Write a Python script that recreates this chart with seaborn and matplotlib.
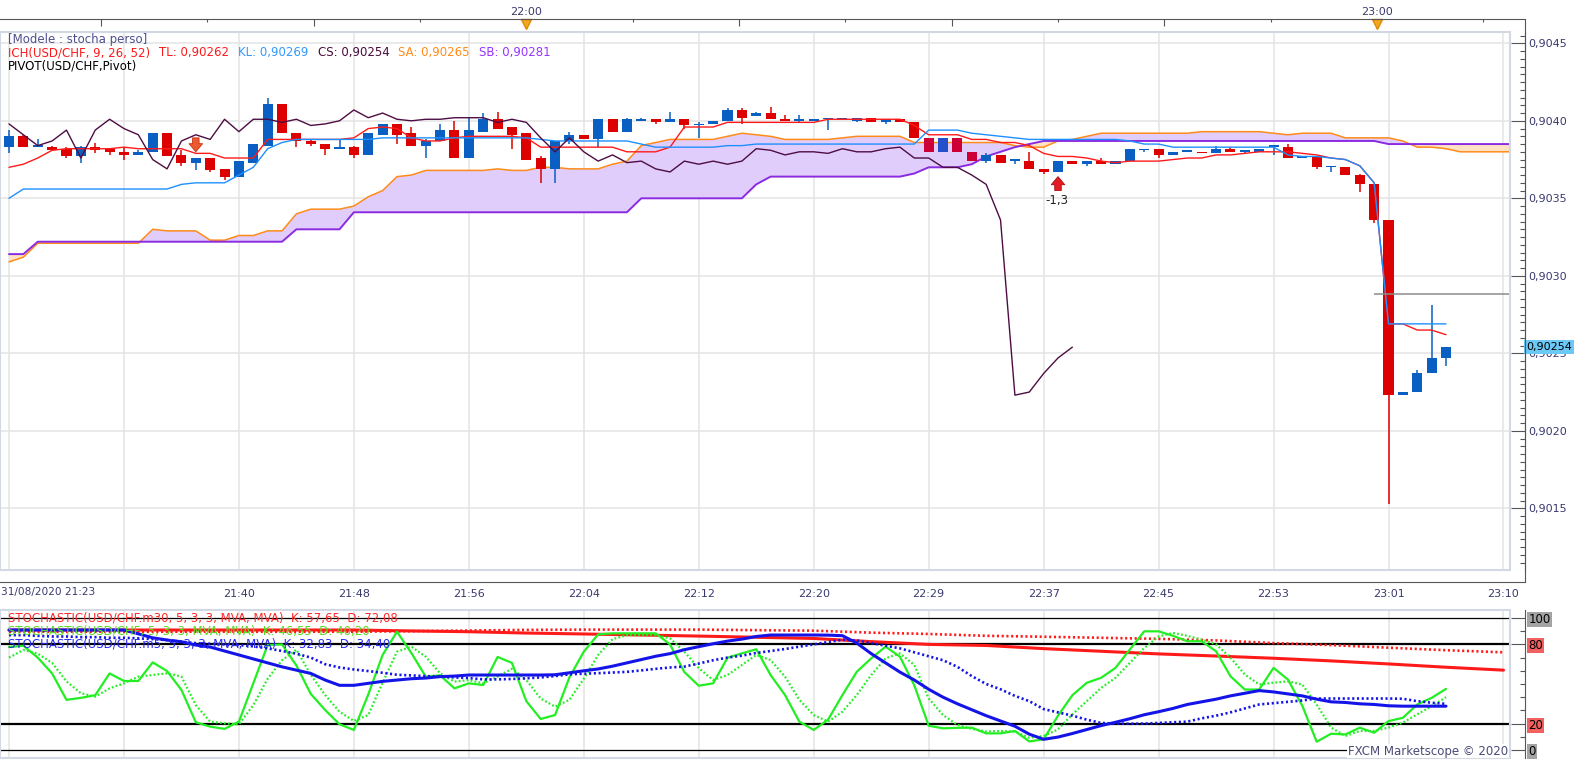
import numpy as np
import pandas as pd
import matplotlib
matplotlib.use("Agg")
import matplotlib.pyplot as plt
import seaborn as sns
from matplotlib.ticker import FixedLocator, MultipleLocator, FuncFormatter
from matplotlib.patches import Rectangle
from matplotlib.lines import Line2D

sns.set_style("white")
plt.rcParams["font.family"] = ["DejaVu Sans"]

# ---- USD/CHF 1 minute candles, bar 0 = 31/08/2020 21:23 ----
opens = [0.90383, 0.90390, 0.90383, 0.90383, 0.90382, 0.90377, 0.90383, 0.90382, 0.90380, 0.90378,
         0.90380, 0.90392, 0.90378, 0.90373, 0.90376, 0.90369, 0.90364, 0.90373, 0.90384, 0.90411,
         0.90392, 0.90387, 0.90385, 0.90382, 0.90383, 0.90378, 0.90391, 0.90398, 0.90392, 0.90384,
         0.90387, 0.90394, 0.90376, 0.90393, 0.90401, 0.90396, 0.90392, 0.90376, 0.90369, 0.90387,
         0.90391, 0.90388, 0.90401, 0.90393, 0.90400, 0.90401, 0.90399, 0.90401, 0.90397, 0.90398,
         0.90400, 0.90407, 0.90403, 0.90405, 0.90401, 0.90400, 0.90400, 0.90401, 0.90401, 0.90400,
         0.90402, 0.90399, 0.90401, 0.90399, 0.90389, 0.90380, 0.90389, 0.90380, 0.90374, 0.90378,
         0.90374, 0.90374, 0.90369, 0.90367, 0.90374, 0.90372, 0.90374, 0.90372, 0.90374, 0.90381,
         0.90382, 0.90378, 0.90380, 0.90380, 0.90379, 0.90382, 0.90380, 0.90380, 0.90383, 0.90383,
         0.90376, 0.90377, 0.90370, 0.90370, 0.90365, 0.90359, 0.90336, 0.90223, 0.90225, 0.90237,
         0.90247]
highs = [0.90394, 0.90391, 0.90388, 0.90384, 0.90383, 0.90384, 0.90386, 0.90382, 0.90383, 0.90381,
         0.90392, 0.90392, 0.90381, 0.90376, 0.90376, 0.90369, 0.90374, 0.90385, 0.90415, 0.90411,
         0.90392, 0.90388, 0.90385, 0.90388, 0.90384, 0.90392, 0.90398, 0.90398, 0.90396, 0.90388,
         0.90398, 0.90400, 0.90402, 0.90405, 0.90406, 0.90396, 0.90392, 0.90377, 0.90387, 0.90393,
         0.90391, 0.90401, 0.90401, 0.90402, 0.90402, 0.90401, 0.90406, 0.90401, 0.90399, 0.90400,
         0.90408, 0.90408, 0.90406, 0.90409, 0.90404, 0.90404, 0.90401, 0.90402, 0.90402, 0.90402,
         0.90402, 0.90401, 0.90401, 0.90399, 0.90389, 0.90389, 0.90389, 0.90380, 0.90379, 0.90378,
         0.90374, 0.90380, 0.90369, 0.90374, 0.90374, 0.90374, 0.90376, 0.90374, 0.90382, 0.90382,
         0.90382, 0.90380, 0.90380, 0.90380, 0.90384, 0.90383, 0.90381, 0.90382, 0.90383, 0.90385,
         0.90376, 0.90377, 0.90370, 0.90370, 0.90366, 0.90359, 0.90336, 0.90225, 0.90239, 0.90281,
         0.90254]
lows = [0.90379, 0.90383, 0.90383, 0.90381, 0.90376, 0.90373, 0.90379, 0.90378, 0.90375, 0.90378,
        0.90380, 0.90377, 0.90371, 0.90368, 0.90367, 0.90362, 0.90364, 0.90373, 0.90384, 0.90392,
        0.90383, 0.90384, 0.90378, 0.90382, 0.90376, 0.90378, 0.90391, 0.90385, 0.90384, 0.90376,
        0.90387, 0.90376, 0.90376, 0.90393, 0.90395, 0.90382, 0.90375, 0.90360, 0.90360, 0.90385,
        0.90388, 0.90383, 0.90393, 0.90393, 0.90400, 0.90398, 0.90399, 0.90395, 0.90389, 0.90398,
        0.90400, 0.90398, 0.90403, 0.90401, 0.90400, 0.90399, 0.90400, 0.90394, 0.90401, 0.90399,
        0.90399, 0.90398, 0.90399, 0.90389, 0.90380, 0.90380, 0.90380, 0.90374, 0.90373, 0.90373,
        0.90372, 0.90369, 0.90366, 0.90367, 0.90372, 0.90371, 0.90372, 0.90372, 0.90374, 0.90380,
        0.90376, 0.90378, 0.90380, 0.90379, 0.90379, 0.90380, 0.90379, 0.90380, 0.90378, 0.90376,
        0.90376, 0.90369, 0.90367, 0.90365, 0.90354, 0.90334, 0.90153, 0.90223, 0.90225, 0.90237,
        0.90242]
closes = [0.90390, 0.90383, 0.90383, 0.90381, 0.90377, 0.90383, 0.90381, 0.90380, 0.90378, 0.90380,
          0.90392, 0.90377, 0.90373, 0.90376, 0.90368, 0.90364, 0.90374, 0.90385, 0.90411, 0.90392,
          0.90387, 0.90385, 0.90382, 0.90383, 0.90378, 0.90392, 0.90398, 0.90391, 0.90384, 0.90387,
          0.90394, 0.90376, 0.90394, 0.90401, 0.90395, 0.90391, 0.90375, 0.90369, 0.90387, 0.90391,
          0.90388, 0.90401, 0.90393, 0.90401, 0.90401, 0.90399, 0.90401, 0.90397, 0.90398, 0.90400,
          0.90407, 0.90402, 0.90405, 0.90401, 0.90400, 0.90401, 0.90401, 0.90402, 0.90402, 0.90402,
          0.90399, 0.90401, 0.90399, 0.90389, 0.90380, 0.90389, 0.90380, 0.90374, 0.90378, 0.90373,
          0.90374, 0.90369, 0.90367, 0.90374, 0.90372, 0.90374, 0.90372, 0.90374, 0.90382, 0.90381,
          0.90378, 0.90380, 0.90380, 0.90379, 0.90382, 0.90380, 0.90380, 0.90382, 0.90383, 0.90376,
          0.90376, 0.90370, 0.90370, 0.90365, 0.90359, 0.90336, 0.90223, 0.90225, 0.90237, 0.90247,
          0.90254]
tinted_bars = [64, 65, 66, 67]   # bars drawn in the darker "inside cloud" colours

# ---- Ichimoku ----
tenkan = [0.90370, 0.90372, 0.90376, 0.90381, 0.90382, 0.90382, 0.90382, 0.90382, 0.90383, 0.90382,
          0.90382, 0.90382, 0.90382, 0.90379, 0.90379, 0.90376, 0.90376, 0.90376, 0.90388, 0.90388,
          0.90388, 0.90388, 0.90388, 0.90388, 0.90389, 0.90395, 0.90396, 0.90395, 0.90389, 0.90387,
          0.90387, 0.90389, 0.90390, 0.90390, 0.90390, 0.90390, 0.90389, 0.90383, 0.90383, 0.90383,
          0.90383, 0.90383, 0.90383, 0.90380, 0.90380, 0.90380, 0.90383, 0.90396, 0.90396, 0.90396,
          0.90399, 0.90399, 0.90399, 0.90399, 0.90399, 0.90399, 0.90399, 0.90401, 0.90401, 0.90401,
          0.90401, 0.90401, 0.90401, 0.90397, 0.90391, 0.90391, 0.90391, 0.90388, 0.90388, 0.90386,
          0.90386, 0.90384, 0.90379, 0.90377, 0.90377, 0.90376, 0.90374, 0.90373, 0.90374, 0.90374,
          0.90374, 0.90375, 0.90376, 0.90376, 0.90378, 0.90378, 0.90379, 0.90380, 0.90380, 0.90380,
          0.90379, 0.90378, 0.90376, 0.90375, 0.90371, 0.90360, 0.90269, 0.90269, 0.90265, 0.90265,
          0.90262]
kijun = [0.90350, 0.90356, 0.90356, 0.90356, 0.90356, 0.90356, 0.90356, 0.90356, 0.90356, 0.90356,
         0.90356, 0.90356, 0.90359, 0.90360, 0.90360, 0.90360, 0.90365, 0.90370, 0.90382, 0.90386,
         0.90388, 0.90388, 0.90388, 0.90388, 0.90388, 0.90388, 0.90389, 0.90389, 0.90389, 0.90389,
         0.90389, 0.90389, 0.90389, 0.90389, 0.90389, 0.90389, 0.90389, 0.90388, 0.90387, 0.90387,
         0.90387, 0.90387, 0.90387, 0.90387, 0.90385, 0.90383, 0.90383, 0.90383, 0.90383, 0.90383,
         0.90384, 0.90384, 0.90385, 0.90385, 0.90385, 0.90385, 0.90385, 0.90385, 0.90385, 0.90385,
         0.90385, 0.90385, 0.90385, 0.90385, 0.90394, 0.90394, 0.90394, 0.90392, 0.90391, 0.90390,
         0.90389, 0.90388, 0.90388, 0.90388, 0.90388, 0.90388, 0.90388, 0.90388, 0.90387, 0.90385,
         0.90385, 0.90383, 0.90383, 0.90383, 0.90383, 0.90383, 0.90383, 0.90383, 0.90383, 0.90378,
         0.90377, 0.90377, 0.90376, 0.90375, 0.90371, 0.90360, 0.90269, 0.90269, 0.90269, 0.90269,
         0.90269]
senkou_a = [0.90309, 0.90312, 0.90321, 0.90321, 0.90321, 0.90321, 0.90321, 0.90321, 0.90321, 0.90321,
            0.90330, 0.90329, 0.90329, 0.90329, 0.90323, 0.90323, 0.90326, 0.90326, 0.90329, 0.90329,
            0.90340, 0.90343, 0.90343, 0.90343, 0.90345, 0.90351, 0.90355, 0.90364, 0.90365, 0.90368,
            0.90368, 0.90368, 0.90368, 0.90368, 0.90369, 0.90368, 0.90368, 0.90370, 0.90370, 0.90369,
            0.90369, 0.90369, 0.90372, 0.90374, 0.90384, 0.90386, 0.90388, 0.90388, 0.90388, 0.90388,
            0.90390, 0.90392, 0.90391, 0.90390, 0.90388, 0.90388, 0.90388, 0.90388, 0.90389, 0.90390,
            0.90390, 0.90390, 0.90390, 0.90386, 0.90386, 0.90386, 0.90386, 0.90386, 0.90386, 0.90386,
            0.90384, 0.90383, 0.90383, 0.90387, 0.90388, 0.90390, 0.90392, 0.90392, 0.90392, 0.90392,
            0.90392, 0.90392, 0.90392, 0.90393, 0.90393, 0.90393, 0.90393, 0.90393, 0.90392, 0.90391,
            0.90392, 0.90392, 0.90392, 0.90389, 0.90389, 0.90389, 0.90389, 0.90387, 0.90383, 0.90383,
            0.90382, 0.90380, 0.90380, 0.90380, 0.90380, 0.90380]
senkou_b = [0.90314, 0.90314, 0.90322, 0.90322, 0.90322, 0.90322, 0.90322, 0.90322, 0.90322, 0.90322,
            0.90322, 0.90322, 0.90322, 0.90322, 0.90322, 0.90322, 0.90322, 0.90322, 0.90322, 0.90322,
            0.90330, 0.90330, 0.90330, 0.90330, 0.90341, 0.90341, 0.90341, 0.90341, 0.90341, 0.90341,
            0.90341, 0.90341, 0.90341, 0.90341, 0.90341, 0.90341, 0.90341, 0.90341, 0.90341, 0.90341,
            0.90341, 0.90341, 0.90341, 0.90341, 0.90350, 0.90350, 0.90350, 0.90350, 0.90350, 0.90350,
            0.90350, 0.90350, 0.90359, 0.90364, 0.90364, 0.90364, 0.90364, 0.90364, 0.90364, 0.90364,
            0.90364, 0.90364, 0.90364, 0.90366, 0.90370, 0.90370, 0.90370, 0.90372, 0.90377, 0.90380,
            0.90383, 0.90385, 0.90387, 0.90387, 0.90387, 0.90387, 0.90387, 0.90387, 0.90387, 0.90387,
            0.90387, 0.90387, 0.90387, 0.90387, 0.90387, 0.90387, 0.90387, 0.90387, 0.90387, 0.90387,
            0.90387, 0.90387, 0.90387, 0.90387, 0.90387, 0.90387, 0.90385, 0.90385, 0.90385, 0.90385,
            0.90385, 0.90385, 0.90385, 0.90385, 0.90385, 0.90385]
chikou_shift = 26
pivot_level = 0.90288
pivot_start_bar = 95
signal_down_bar, signal_down_top, signal_down_tip = 13, 0.90389, 0.90380
signal_up_bar, signal_up_base, signal_up_tip = 73, 0.90355, 0.90364
signal_up_text = "-1,3"

# ---- Stochastics (USD/CHF m1, m5, m30) ----
stoch_k = [78, 79, 70, 58, 38, 39.5, 41.5, 58, 52.3, 52.3, 66.4, 59.8, 45.5, 21, 17.7, 16, 21.5, 50.5, 79.5, 80,
           64, 42.5, 30.3, 19.5, 15.2, 42, 72, 89.6, 73.5, 55.6, 56.6, 46.7, 50.5, 49.2, 70.5, 66, 37, 23.5, 26.5, 55,
           74.5, 87.6, 88.4, 88.4, 88.4, 88.4, 80, 59, 48.7, 50.5, 69.9, 73.2, 76.3, 56.8, 41.7, 21.5, 15.2, 23, 41.7, 59.3,
           69.4, 78.3, 70.7, 49, 18.4, 16.4, 16.8, 16.9, 12.6, 12.6, 14.4, 6.5, 8.1, 26, 41.5, 50.9, 54.7, 62.2, 76.1, 89.9,
           89.9, 86.5, 82.4, 82.4, 74.8, 55.9, 45.8, 45.8, 62.2, 53.4, 33.5, 6.3, 12.3, 11.8, 16.9, 13.1, 21.9, 24.4, 34.5, 39.5,
           46.3]
stoch_d = [70, 75.8, 73, 66, 52, 43, 40.4, 46.7, 50.5, 55.6, 56.8, 58.1, 55.6, 34, 21.5, 20.2, 19.4, 34, 54, 68,
           76, 57, 41.7, 29, 22, 26.5, 51, 74.5, 78.3, 70.7, 58.1, 51.8, 53, 50.5, 55.6, 61.5, 53, 39, 32.8, 38,
           54, 72, 84, 87, 87, 87, 84.6, 74.5, 62, 53, 56.8, 64.4, 72, 68.2, 55.6, 38, 26.5, 21.5, 29, 41.7,
           56.8, 69.4, 73.2, 64.4, 39, 26.5, 19, 16, 14, 14.4, 14, 9.3, 10.6, 15.6, 27, 37, 47, 54.7, 66, 77.3,
           86, 88.7, 86.5, 83.6, 80, 70, 57.2, 49.6, 51, 52, 49.6, 34.5, 17, 10.6, 14.4, 14.4, 17, 20.7, 27, 33.2,
           40]
stoch_m5_k = [90.9, 90.9, 90.9, 90.9, 90.9, 90.9, 90.9, 90.9, 90.9, 88, 85, 83.3, 82, 79.5, 78, 75, 72, 69, 66, 63,
              60.5, 58, 53, 49, 49, 50.5, 52, 53, 54, 54.5, 55.6, 56, 56.8, 56.8, 56.8, 56.8, 56.8, 56.8, 57, 58.5,
              60, 61.4, 63.5, 66, 68.5, 71, 73, 76, 78.3, 80.5, 82.5, 84, 86, 87.1, 87.1, 87.1, 87.1, 87, 86.6, 81,
              73, 66, 59, 53, 46, 40, 35, 30.5, 26, 22, 18, 12, 8.1, 9.8, 12.5, 15.5, 18.5, 21, 23.7, 26.7,
              29, 31.5, 34.5, 36.5, 38.5, 41, 43, 45, 44, 42.5, 41, 38.5, 36.5, 36, 35, 34.5, 33.5, 33.2, 33.2, 33.2,
              33.2]
stoch_m5_d = [87, 87, 86.5, 86, 86, 85.5, 85.5, 85, 85, 84.6, 84, 83.3, 82, 81, 80.5, 80, 79.5, 78.5, 77, 75,
              73, 70, 65, 62.5, 61, 59.8, 58.5, 57, 56.5, 56, 55.5, 55, 54.5, 53.5, 53.5, 53.8, 54.3, 55, 56, 57.3,
              57.8, 58.2, 58.7, 59.2, 60.3, 61.5, 62.5, 63.2, 65.5, 68, 70, 71.5, 73.5, 75, 76.5, 78.3, 80, 81.8, 83.5, 83,
              81, 79, 77, 74, 71, 68, 63, 56, 50, 46, 41, 37, 31, 28.5, 26, 23, 20.5, 20, 19.9, 20,
              20.5, 21, 21.5, 24, 26, 28.5, 31.5, 34.5, 35.5, 36.5, 37.5, 39, 39, 39, 39, 39, 39, 38.8, 37, 35.8,
              35]
m30_bars = [0, 4, 8, 12, 16, 20, 24, 28, 32, 36, 40, 44, 48, 52, 56, 60, 64, 68, 72, 76,
            80, 84, 88, 92, 96, 100, 104]
stoch_m30_k = [90.9, 90.9, 90.9, 90.9, 90.9, 90.9, 90.9, 90.2, 89.6, 88.6, 87.9, 87.1, 86.3, 85.4, 84.5, 82.1,
               80.0, 79.2, 76.8, 74.8, 72.8, 71.2, 69.5, 67.5, 65.2, 62.7, 60.5]
stoch_m30_d = [89.6, 89.6, 89.6, 89.6, 89.6, 89.6, 89.6, 90.0, 90.5, 91.0, 91.2, 91.2, 91.2, 90.8, 90.4, 88.9,
               87.9, 86.5, 85.8, 85.0, 84.2, 83.0, 81.0, 79.5, 77.5, 75.6, 74.0]

# ---- axis labels ----
grid_bars = [0, 8, 16, 24, 32, 40, 48, 56, 64, 72, 80, 88, 96, 104]
time_labels = ["", "", "21:40", "21:48", "21:56", "22:04", "22:12", "22:20", "22:29",
               "22:37", "22:45", "22:53", "23:01", "23:10"]
first_label = "31/08/2020 21:23"
hour_ticks = [6.4, 21.2, 36.0, 50.8, 65.6, 80.4, 95.2]
hour_labels = ["", "", "22:00", "", "", "", "23:00"]
half_ticks = [13.8, 28.6, 43.4, 58.2, 73.0, 87.8, 102.6]
price_ticks = [0.9015, 0.9020, 0.9025, 0.9030, 0.9035, 0.9040, 0.9045]

# ---------------------------------------------------------------
W, H = 1583.0, 760.0
PX, X0 = 14.37, 9.0          # pixels per bar, pixel of bar 0
fig = plt.figure(figsize=(W / 100, H / 100), dpi=100)


def box(x0, y0, x1, y1):
    return [x0 / W, 1 - y1 / H, (x1 - x0) / W, (y1 - y0) / H]


ax = fig.add_axes(box(0, 32, 1510, 570))
axs = fig.add_axes(box(0, 610, 1510, 758))
axt = fig.add_axes(box(0, 19, 1525, 32))
axb = fig.add_axes(box(0, 570, 1525, 582))
xlim_main = (-X0 / PX, (1510 - X0) / PX)
xlim_wide = (-X0 / PX, (1525 - X0) / PX)

AXC = "#555555"
LBC = "#39396e"
GRID = "#e4e4e4"
FS = 8.5

# ---- price panel ----
bars = np.arange(len(opens))
o, h, l, c = map(np.array, (opens, highs, lows, closes))
up = c >= o
colors = np.where(up, "#0a5fc2", "#dd0000").astype(object)
for i in tinted_bars:
    colors[i] = "#2450cc" if up[i] else "#cc0036"
body_lo = np.minimum(o, c)
body_h = np.maximum(np.abs(c - o), 0.000011)

ax.vlines(bars, l, h, colors=list(colors), lw=1.1, zorder=3)
ax.bar(bars, body_h, bottom=body_lo, width=0.7, color=list(colors), lw=0, zorder=3.5)

cloud_x = np.arange(len(senkou_a))
sa, sb = np.array(senkou_a), np.array(senkou_b)
ax.fill_between(cloud_x, sa, sb, where=sa >= sb, interpolate=True, color="#e1cdfb", lw=0, zorder=1)
ax.fill_between(cloud_x, sa, sb, where=sa < sb, interpolate=True, color="#ffe2c4", lw=0, zorder=1)

ich = pd.DataFrame({"bar": bars, "TL": tenkan, "KL": kijun})
sns.lineplot(x=cloud_x, y=sa, ax=ax, color="#ff8c1a", lw=1.1, zorder=2)
sns.lineplot(x=cloud_x, y=sb, ax=ax, color="#8a2be2", lw=1.4, zorder=2)
sns.lineplot(data=ich, x="bar", y="TL", ax=ax, color="#ff1a1a", lw=1.0, zorder=4)
sns.lineplot(data=ich, x="bar", y="KL", ax=ax, color="#1e8fff", lw=1.0, zorder=4)
sns.lineplot(x=bars[:-chikou_shift], y=c[chikou_shift:], ax=ax, color="#4d0d43", lw=1.0, zorder=4)
ax.hlines(pivot_level, pivot_start_bar, xlim_wide[1], color="#8c8c8c", lw=1.1, zorder=4)

arrow_style = "simple,head_length=0.45,head_width=0.75,tail_width=0.36"
ax.annotate("", xy=(signal_down_bar, signal_down_tip), xytext=(signal_down_bar, signal_down_top),
            arrowprops=dict(arrowstyle=arrow_style, mutation_scale=13, shrinkA=0, shrinkB=0,
                            fc="#ee5a30", ec="#c83010", lw=0.6), zorder=6)
ax.annotate("", xy=(signal_up_bar, signal_up_tip), xytext=(signal_up_bar, signal_up_base),
            arrowprops=dict(arrowstyle=arrow_style, mutation_scale=13, shrinkA=0, shrinkB=0,
                            fc="#e41c24", ec="#a80c10", lw=0.6), zorder=6)
ax.text(signal_up_bar - 0.85, signal_up_base - 0.00002, signal_up_text, fontsize=FS, color="#222222",
        ha="left", va="top", zorder=6)

ax.set_xlim(xlim_main)
ax.set_ylim(0.901102, 0.904573)
ax.set_xticks(grid_bars)
ax.tick_params(axis="x", length=0, labelbottom=False)
ax.grid(True, color=GRID, lw=1.1)
ax.set_axisbelow(True)
ax.set_xlabel("")
ax.set_ylabel("")
ax.yaxis.tick_right()
ax.set_yticks(price_ticks)
ax.yaxis.set_major_formatter(FuncFormatter(lambda v, p: f"{v:.4f}".replace(".", ",")))
ax.yaxis.set_minor_locator(MultipleLocator(0.00005))
for s in ["top", "left", "bottom"]:
    ax.spines[s].set_visible(False)
ax.spines["right"].set_position(("outward", 10.8))
ax.spines["right"].set_color(AXC)
ax.spines["right"].set_linewidth(0.8)
ax.tick_params(axis="y", which="major", direction="in", length=10, width=0.8, color=AXC,
               labelcolor=LBC, labelsize=8, pad=2)
ax.tick_params(axis="y", which="minor", direction="in", length=3.6, width=0.8, color=AXC)
ax.add_patch(Rectangle((0, 0), 1, 1, transform=ax.transAxes, fill=False, ec="#d2d9e4",
                       lw=1.5, clip_on=False, zorder=10))
ax.text(1526 / 1510, closes[-1], f"{closes[-1]:.5f}".replace(".", ","), transform=ax.get_yaxis_transform(),
        ha="left", va="center", fontsize=8, color="black", clip_on=False, zorder=20,
        bbox=dict(fc="#6cc8f5", ec="none", pad=1.6))
fig.add_artist(Line2D([1525 / W, 1525 / W], [1 - 19 / H, 1 - 582 / H], transform=fig.transFigure,
                      color=AXC, lw=0.8))

# ---- top time axis ----
axt.set_xlim(xlim_wide)
axt.set_ylim(0, 1)
axt.patch.set_alpha(0)
for s in ["left", "right", "bottom"]:
    axt.spines[s].set_visible(False)
axt.spines["top"].set_color(AXC)
axt.spines["top"].set_linewidth(0.8)
axt.set_yticks([])
axt.xaxis.tick_top()
axt.set_xticks(hour_ticks, hour_labels)
axt.xaxis.set_minor_locator(FixedLocator(half_ticks))
axt.tick_params(axis="x", which="major", direction="in", length=5, width=0.8, color=AXC,
                labelcolor=LBC, labelsize=8, pad=1.5)
axt.tick_params(axis="x", which="minor", direction="in", length=2.5, width=0.8, color=AXC)
axt.plot([hour_ticks[2], hour_ticks[6]], [0.6, 0.6], ls="none", marker="v", ms=7,
         color="#f5a623", mec="#e08a00", clip_on=False)

# ---- bottom time axis ----
axb.set_xlim(xlim_wide)
axb.set_ylim(0, 1)
axb.patch.set_alpha(0)
for s in ["left", "right", "top"]:
    axb.spines[s].set_visible(False)
axb.spines["bottom"].set_color(AXC)
axb.spines["bottom"].set_linewidth(0.8)
axb.set_yticks([])
axb.set_xticks(grid_bars, time_labels)
axb.xaxis.set_minor_locator(MultipleLocator(1))
axb.tick_params(axis="x", which="major", direction="in", length=8.6, width=0.8, color=AXC,
                labelcolor=LBC, labelsize=8, pad=5)
axb.tick_params(axis="x", which="minor", direction="in", length=2.9, width=0.8, color=AXC)
fig.text(1 / W, 1 - 587 / H, first_label, fontsize=7.6, color=LBC, ha="left", va="top")

# ---- stochastic panel ----
sto = pd.DataFrame({"bar": bars, "K": stoch_k, "D": stoch_d, "K5": stoch_m5_k, "D5": stoch_m5_d})
dots = (0, (0.8, 1.0))
sns.lineplot(x=m30_bars, y=stoch_m30_d, ax=axs, color="#ff1a1a", lw=1.9, ls=dots, zorder=3)
sns.lineplot(x=m30_bars, y=stoch_m30_k, ax=axs, color="#ff1a1a", lw=2.2, zorder=3)
sns.lineplot(data=sto, x="bar", y="D", ax=axs, color="#22ee22", lw=1.6, ls=dots, zorder=4)
sns.lineplot(data=sto, x="bar", y="K", ax=axs, color="#22ee22", lw=1.6, zorder=4)
sns.lineplot(data=sto, x="bar", y="D5", ax=axs, color="#1414e8", lw=1.9, ls=dots, zorder=5)
sns.lineplot(data=sto, x="bar", y="K5", ax=axs, color="#1414e8", lw=2.2, zorder=5)
for lvl, w in [(100, 0.9), (80, 1.6), (20, 1.6), (0, 0.9)]:
    axs.axhline(lvl, color="black", lw=w, zorder=2)

axs.set_xlim(xlim_main)
axs.set_ylim(-6.06, 106.06)
axs.set_xlabel("")
axs.set_ylabel("")
axs.set_xticks(grid_bars)
axs.tick_params(axis="x", length=0, labelbottom=False)
axs.grid(True, axis="x", color=GRID, lw=1.1)
axs.set_axisbelow(True)
axs.yaxis.tick_right()
axs.set_yticks([0, 20, 80, 100], ["0", "20", "80", "100"])
axs.yaxis.set_minor_locator(FixedLocator([10, 30, 40, 50, 60, 70, 90]))
for s in ["top", "left", "bottom"]:
    axs.spines[s].set_visible(False)
axs.spines["right"].set_position(("outward", 10.8))
axs.spines["right"].set_color(AXC)
axs.spines["right"].set_linewidth(0.8)
axs.tick_params(axis="y", which="major", direction="in", length=10, width=0.8, color=AXC,
                labelcolor="black", labelsize=8.5, pad=2.5)
axs.tick_params(axis="y", which="minor", direction="in", length=3.6, width=0.8, color=AXC)
for lab, fc in zip(axs.get_yticklabels(), ["#a3a3a3", "#f26060", "#f26060", "#a3a3a3"]):
    lab.set_bbox(dict(fc=fc, ec="none", pad=0.8))
axs.add_patch(Rectangle((0, 0), 1, 1, transform=axs.transAxes, fill=False, ec="#d2d9e4",
                        lw=1.5, clip_on=False, zorder=10))

# ---- legend texts ----
fig.text(8 / W, 1 - 40 / H, "[Modele : stocha perso]", fontsize=FS, color="#4f4f8c", va="center")
renderer = fig.canvas.get_renderer()
xpos = 8
for seg, col in [("ICH(USD/CHF, 9, 26, 52)", "#ff1a1a"), ("TL: 0,90262", "#ff1a1a"),
                 ("KL: 0,90269", "#3399ff"), ("CS: 0,90254", "#4b0a3c"),
                 ("SA: 0,90265", "#ff8c1a"), ("SB: 0,90281", "#9933ff")]:
    t = fig.text(xpos / W, 1 - 52.5 / H, seg, fontsize=FS, color=col, va="center")
    xpos = t.get_window_extent(renderer).x1 + 9
fig.text(8 / W, 1 - 66 / H, "PIVOT(USD/CHF,Pivot)", fontsize=FS, color="black", va="center")

fig.text(8 / W, 1 - 618 / H, "STOCHASTIC(USD/CHF.m30, 5, 3, 3, MVA, MVA)  K: 57,65  D: 72,08",
         fontsize=FS, color="#ff2a2a", va="center")
fig.text(8 / W, 1 - 631 / H, "STOCHASTIC(USD/CHF, 5, 3, 3, MVA, MVA)  K: 46,55  D: 40,20",
         fontsize=FS, color="#55dd22", va="center")
fig.text(8 / W, 1 - 644 / H, "STOCHASTIC(USD/CHF.m5, 5, 3, 3, MVA, MVA)  K: 32,83  D: 34,40",
         fontsize=FS, color="#2a2af0", va="center")
fig.text(1508 / W, 1 - 751 / H, "FXCM Marketscope © 2020", fontsize=8.5, color="#4a4a78",
         ha="right", va="center", bbox=dict(fc="white", ec="none", pad=0.5))

fig.savefig("out.png", dpi=100)
